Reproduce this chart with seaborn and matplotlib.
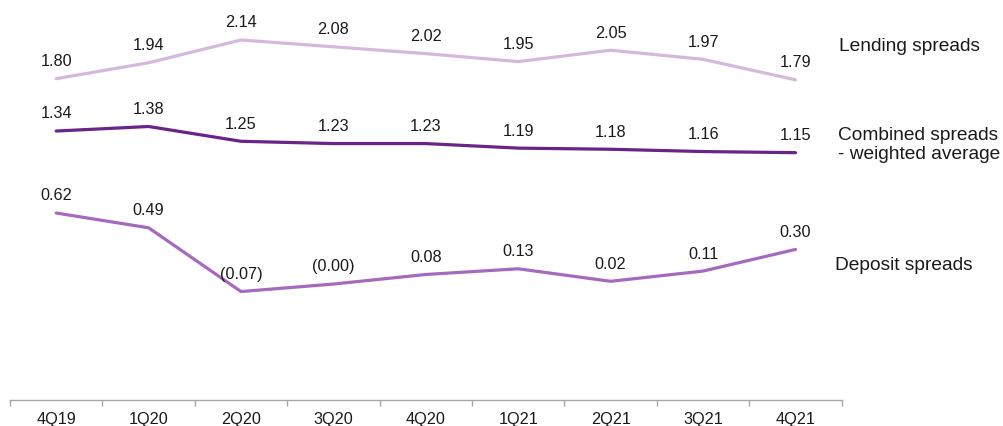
import matplotlib
matplotlib.use("Agg")
import matplotlib.pyplot as plt
import seaborn as sns
import pandas as pd

quarters = ["4Q19", "1Q20", "2Q20", "3Q20", "4Q20", "1Q21", "2Q21", "3Q21", "4Q21"]
lending = [1.80, 1.94, 2.14, 2.08, 2.02, 1.95, 2.05, 1.97, 1.79]
combined = [1.34, 1.38, 1.25, 1.23, 1.23, 1.19, 1.18, 1.16, 1.15]
deposit = [0.62, 0.49, -0.07, -0.004, 0.08, 0.13, 0.02, 0.11, 0.30]

series_names = ["Lending spreads", "Combined spreads\n- weighted average", "Deposit spreads"]
series_values = [lending, combined, deposit]
series_colors = ["#d5b9dd", "#6a2386", "#a56abd"]

sns.set_theme(style="white")
plt.rcParams["font.family"] = ["Liberation Sans", "DejaVu Sans"]

frames = []
for name, vals in zip(series_names, series_values):
    frames.append(pd.DataFrame({"quarter": quarters, "value": vals, "series": name}))
df = pd.concat(frames, ignore_index=True)

fig = plt.figure(figsize=(10.04, 4.27), dpi=100)
ax = fig.add_axes([10 / 1004, 26.3 / 427, 831.7 / 1004, 400.7 / 427])

sns.lineplot(data=df, x="quarter", y="value", hue="series", palette=series_colors,
             hue_order=series_names, sort=False, linewidth=2.3, legend=False, ax=ax)


def fmt(v):
    return f"({abs(v):.2f})" if v < 0 else f"{v:.2f}"


for vals in series_values:
    for i, v in enumerate(vals):
        ax.annotate(fmt(v), (i, v), xytext=(0, 13), textcoords="offset points",
                    ha="center", va="center", fontsize=11.7, color="#1a1a1a")

ax.set_xlim(-0.5, len(quarters) - 0.5)
ax.set_ylim(-1.02, 2.50)
ax.set_xlabel("")
ax.set_ylabel("")
ax.set_yticks([])
ax.set_xticks(range(len(quarters)))
ax.set_xticklabels(quarters, fontsize=11.7, color="#1a1a1a")
ax.tick_params(axis="x", length=0, pad=8)
# category boundary ticks
ax.set_xticks([i - 0.5 for i in range(len(quarters) + 1)], minor=True)
ax.tick_params(axis="x", which="minor", length=4, width=1, color="#a6a6a6", bottom=True)

for side in ["top", "right", "left"]:
    ax.spines[side].set_visible(False)
ax.spines["bottom"].set_color("#a6a6a6")
ax.spines["bottom"].set_linewidth(1)

label_pos = [(839, 46.7), (838, 145), (835, 265)]
for name, (px, py) in zip(series_names, label_pos):
    fig.text(px / 1004, 1 - py / 427, name, ha="left", va="center",
             fontsize=13.8, color="#1a1a1a", linespacing=1.15)

fig.savefig("out.png", dpi=100)
